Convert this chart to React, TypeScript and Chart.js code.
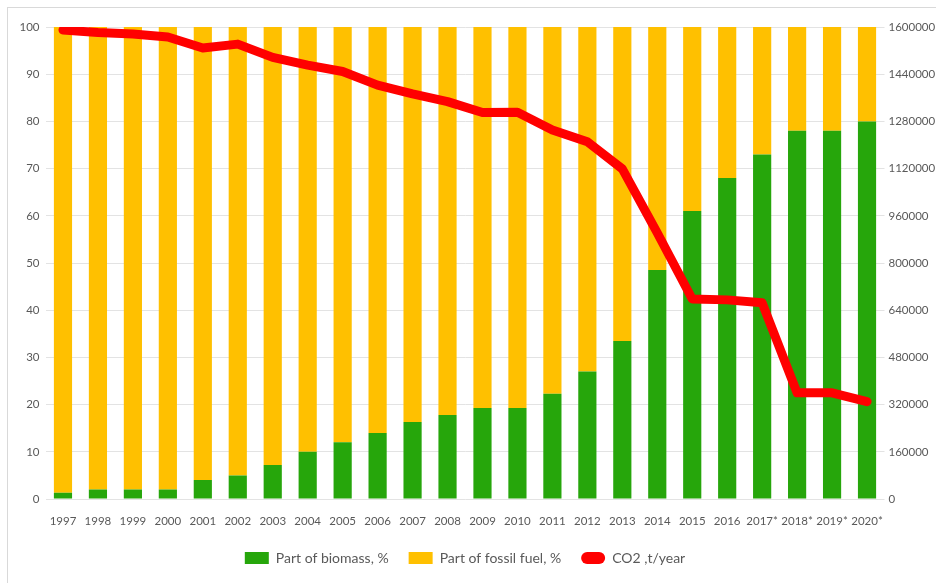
import React, { useEffect, useRef } from "react";
import { Chart, registerables } from "chart.js";

Chart.register(...registerables);

const years = ["1997","1998","1999","2000","2001","2002","2003","2004","2005","2006","2007","2008","2009","2010","2011","2012","2013","2014","2015","2016","2017*","2018*","2019*","2020*"];
const biomass = [1.3,2,2,2,4,5,7.2,10,12,14,16.3,17.8,19.3,19.3,22.3,27,33.5,48.5,61,68,73,78,78,80];
const fossil = [98.7,98,98,98,96,95,92.8,90,88,86,83.7,82.2,80.7,80.7,77.7,73,66.5,51.5,39,32,27,22,22,20];
const co2 = [1590000,1581000,1576000,1566000,1529000,1542000,1497000,1471000,1449000,1403000,1373000,1347000,1310000,1311000,1251000,1211000,1119000,902000,678000,675000,665000,360000,360000,330000];
const leftTicks = { min: 0, max: 100, step: 10 };
const rightTicks = { min: 0, max: 1600000, step: 160000 };

const GREEN = "#26A60B";
const ORANGE = "#FFC000";
const RED = "#FF0000";
const TEXT = "#595959";
const GRID = "#E3E3E3";
const FONT = "Lato, 'Liberation Sans', sans-serif";

export default function App() {
  const ref = useRef<HTMLCanvasElement | null>(null);

  useEffect(() => {
    if (!ref.current) return;
    const chart = new Chart(ref.current, {
      type: "bar",
      data: {
        labels: years,
        datasets: [
          { type: "bar", label: "Part of biomass, %", data: biomass, backgroundColor: GREEN, borderWidth: 0, yAxisID: "y", order: 1, categoryPercentage: 1, barPercentage: 0.52 },
          { type: "bar", label: "Part of fossil fuel, %", data: fossil, backgroundColor: ORANGE, borderWidth: 0, yAxisID: "y", order: 1, categoryPercentage: 1, barPercentage: 0.52 },
          { type: "line", label: "CO2 ,t/year", data: co2, borderColor: RED, backgroundColor: RED, borderWidth: 9, pointRadius: 0, tension: 0, borderJoinStyle: "round", borderCapStyle: "round", yAxisID: "y1", order: 0 },
        ],
      } as any,
      options: {
        animation: false,
        responsive: false,
        maintainAspectRatio: false,
        layout: { padding: { top: 19, left: 0, right: 0, bottom: 0 } },
        plugins: {
          tooltip: { enabled: false },
          legend: {
            position: "bottom",
            fullSize: false,
            labels: {
              color: TEXT,
              font: { family: FONT, size: 14 },
              boxWidth: 24,
              boxHeight: 12,
              padding: 20,
              useBorderRadius: true,
              sort: (a: any, b: any) => a.datasetIndex - b.datasetIndex,
              generateLabels: (c: any) =>
                Chart.defaults.plugins.legend.labels.generateLabels(c).map((it: any) => ({
                  ...it,
                  lineWidth: 0,
                  fillStyle: it.datasetIndex === 2 ? RED : it.fillStyle,
                  borderRadius: it.datasetIndex === 2 ? 6 : 0,
                })),
            },
          },
        },
        scales: {
          x: {
            stacked: true,
            grid: { display: false, drawTicks: false },
            border: { display: false },
            ticks: { color: TEXT, font: { family: FONT, size: 11.5 }, padding: 15, maxRotation: 0, autoSkip: false },
            afterFit: (s: any) => { s.height = 32; },
          },
          y: {
            stacked: true,
            position: "left",
            min: leftTicks.min,
            max: leftTicks.max,
            ticks: { stepSize: leftTicks.step, color: TEXT, font: { family: FONT, size: 11.5 }, padding: 6 },
            grid: { color: GRID, drawTicks: false, lineWidth: 1 },
            border: { display: false },
            afterFit: (s: any) => { s.width = 37.5; },
          },
          y1: {
            position: "right",
            min: rightTicks.min,
            max: rightTicks.max,
            ticks: { stepSize: rightTicks.step, color: TEXT, font: { family: FONT, size: 11.5 }, padding: 4, callback: (v: any) => String(v) },
            grid: { drawOnChartArea: false, drawTicks: false },
            border: { display: false },
            afterFit: (s: any) => { s.width = 83.5; },
          },
        },
      } as any,
    });
    return () => chart.destroy();
  }, []);

  return (
    <div style={{ position: "absolute", left: 7, top: 7, width: 929, height: 576, overflow: "hidden", background: "#fff" }}>
      <div style={{ position: "absolute", left: 0, top: 0, width: 980, height: 620, border: "1px solid #D9D9D9", boxSizing: "border-box" }} />
      <canvas ref={ref} width={960} height={567} style={{ position: "absolute", left: 1, top: 1, width: 960, height: 567 }} />
    </div>
  );
}
